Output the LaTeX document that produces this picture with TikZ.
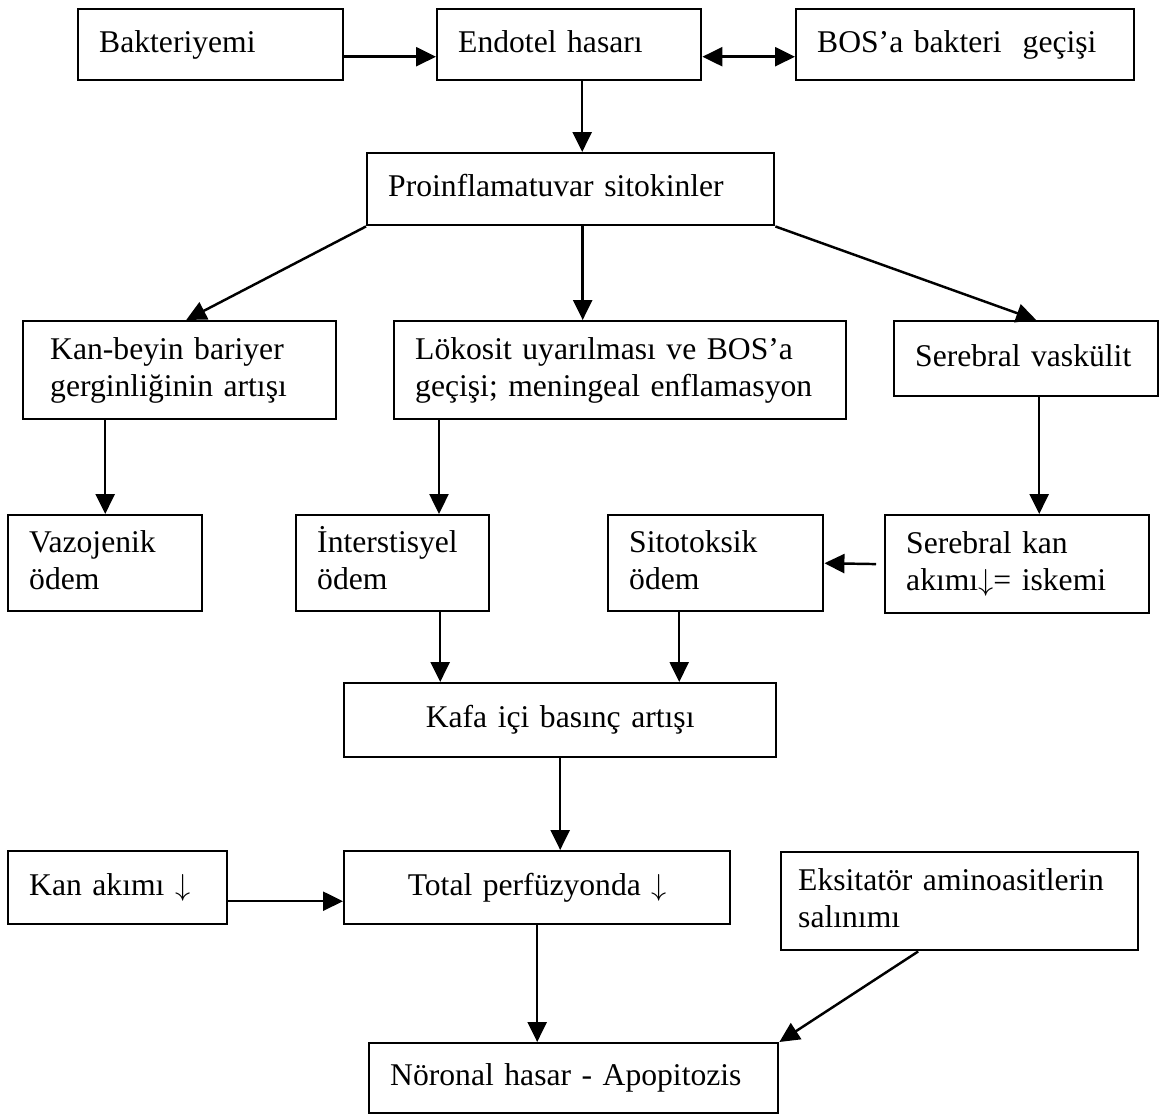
\documentclass[tikz,border=0pt]{standalone}
\usepackage{fontspec}
\setmainfont{Liberation Serif}
\usetikzlibrary{arrows.meta}

\begin{document}
\begin{tikzpicture}[
  x=0.02cm, y=-0.02cm, line width=1.4pt,
  box/.style={draw,rectangle,anchor=north west,align=left,inner xsep=0.42cm,inner ysep=0pt,font=\fontsize{18}{21}\selectfont,
    execute at begin node=\strut, execute at end node=\strut},
  cbox/.style={box,align=center},
  arr/.style={-{Triangle[length=0.4cm,width=0.38cm]}},
  darr/.style={{Triangle[length=0.4cm,width=0.38cm]}-{Triangle[length=0.4cm,width=0.38cm]}}
]
  \useasboundingbox (0,0) rectangle (1170,1115);
  \node[box,text width=4.46cm,minimum height=1.42cm] (bak) at (77,8) {Bakteriyemi};
  \node[box,text width=4.44cm,minimum height=1.42cm] (end) at (436,8) {Endotel hasarı};
  \node[box,text width=5.92cm,minimum height=1.42cm] (bos) at (795,8) {BOS’a bakteri~ geçişi};
  \node[box,text width=7.30cm,minimum height=1.44cm] (pro) at (366,152) {Proinflamatuvar sitokinler};
  \node[box,inner xsep=0.54cm,text width=5.18cm,minimum height=1.96cm] (kbb) at (22,320) {Kan-beyin bariyer\\gerginliğinin artışı};
  \node[box,text width=8.20cm,minimum height=1.96cm] (lok) at (393,320) {Lökosit uyarılması ve BOS’a\\geçişi; meningeal enflamasyon};
  \node[box,text width=4.44cm,minimum height=1.50cm] (ser) at (893,320) {Serebral vaskülit};
  \node[box,text width=3.04cm,minimum height=1.92cm] (vaz) at (7,514) {Vazojenik\\ödem};
  \node[box,text width=3.02cm,minimum height=1.92cm] (int) at (295,514) {İnterstisyel\\ödem};
  \node[box,text width=3.46cm,minimum height=1.92cm] (sit) at (607,514) {Sitotoksik\\ödem};
  \node[box,text width=4.44cm,minimum height=1.96cm] (sk) at (884,514) {Serebral kan\\akımı$\downarrow$= iskemi};
  \node[cbox,text width=7.80cm,minimum height=1.48cm] (kafa) at (343,682) {Kafa içi basınç artışı};
  \node[box,text width=3.54cm,minimum height=1.46cm] (kan) at (7,850) {Kan akımı $\downarrow$};
  \node[cbox,text width=6.88cm,minimum height=1.46cm] (tot) at (343,850) {Total perfüzyonda $\downarrow$};
  \node[box,inner xsep=0.34cm,text width=6.46cm,minimum height=1.96cm] (eks) at (780,851) {Eksitatör aminoasitlerin\\salınımı};
  \node[box,text width=7.34cm,minimum height=1.40cm] (nor) at (368,1042) {Nöronal hasar - Apopitozis};

  \draw[arr] ([yshift=-0.24cm]bak.east) -- ([yshift=-0.24cm]end.west);
  \draw[darr] ([yshift=-0.24cm]end.east) -- ([yshift=-0.24cm]bos.west);
  \draw[arr] ([xshift=0.26cm]end.south) -- ([xshift=0.26cm]end.south |- pro.north);
  \draw[arr] (pro.south west) -- ([xshift=0.13cm]kbb.north);
  \draw[arr] ([xshift=0.24cm]pro.south) -- ([xshift=0.24cm]pro.south |- lok.north);
  \draw[arr] (pro.south east) -- ([xshift=0.2cm]ser.north);
  \draw[arr] (vaz.north |- kbb.south) -- (vaz.north);
  \draw[arr] ([xshift=0.92cm]lok.south west) -- ([xshift=0.92cm]lok.south west |- int.north);
  \draw[arr] ([xshift=0.26cm]ser.south) -- ([xshift=0.26cm]ser.south |- sk.north);
  \draw[arr,shorten <=0.16cm] (sk.west) -- (sit.east);
  \draw[arr] ([xshift=0.95cm]int.south) -- ([xshift=0.95cm]int.south |- kafa.north);
  \draw[arr] ([xshift=-0.73cm]sit.south) -- ([xshift=-0.73cm]sit.south |- kafa.north);
  \draw[arr] (kafa.south) -- (kafa.south |- tot.north);
  \draw[arr] ([yshift=-0.27cm]kan.east) -- ([yshift=-0.27cm]tot.west);
  \draw[arr] (tot.south) -- (tot.south |- nor.north);
  \draw[arr] ([xshift=-0.83cm]eks.south) -- (nor.north east);
\end{tikzpicture}
\end{document}
